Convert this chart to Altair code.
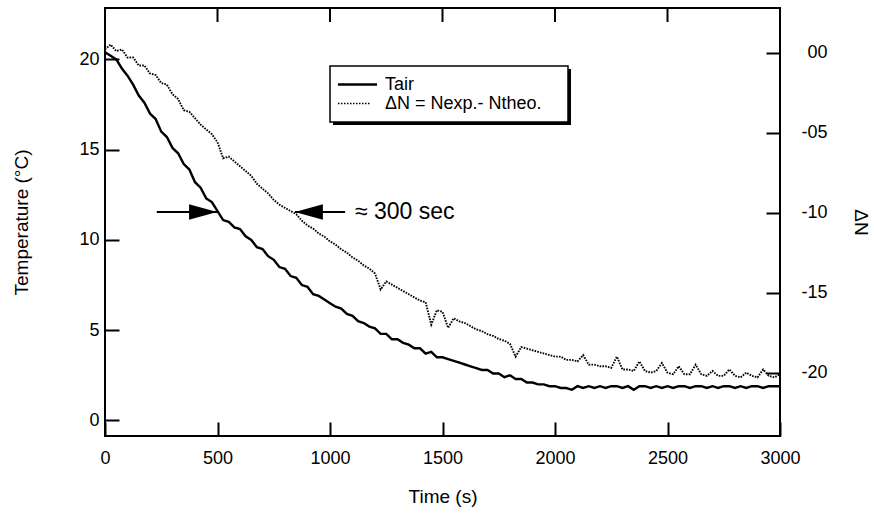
import altair as alt
import pandas as pd

# ---------------- data ----------------
time_s = list(range(0, 3001, 25))

tair = [
    20.4, 20.2, 20.0, 19.5, 19.1, 18.6, 18.0, 17.6,
    17.0, 16.7, 16.0, 15.7, 15.1, 14.8, 14.2, 13.9,
    13.2, 12.9, 12.3, 12.1, 11.6, 11.1, 11.0, 10.7,
    10.6, 10.2, 10.0, 9.6, 9.5, 9.1, 8.9, 8.5,
    8.4, 8.0, 7.9, 7.5, 7.4, 7.0, 6.9, 6.7,
    6.5, 6.3, 6.2, 5.9, 5.8, 5.5, 5.4, 5.2,
    5.1, 4.8, 4.8, 4.5, 4.5, 4.3, 4.2, 4.0,
    4.0, 3.7, 3.8, 3.5, 3.5, 3.4, 3.3, 3.2,
    3.1, 3.0, 2.9, 2.8, 2.8, 2.6, 2.6, 2.4,
    2.5, 2.3, 2.3, 2.1, 2.1, 2.0, 2.0, 1.9,
    1.9, 1.8, 1.8, 1.7, 1.9, 1.8, 1.9, 1.8,
    1.9, 1.8, 1.9, 1.9, 1.8, 1.9, 1.7, 1.9,
    1.9, 1.8, 1.9, 1.8, 1.9, 1.8, 1.9, 1.9,
    1.8, 1.9, 1.9, 1.8, 1.9, 1.8, 1.9, 1.9,
    1.8, 1.9, 1.8, 1.9, 1.9, 1.8, 1.9, 1.9,
    1.9,
]

delta_n = [
    0.2, 0.5, 0.1, 0.2, -0.3, -0.3, -0.8, -0.8,
    -1.3, -1.4, -1.9, -2.0, -2.6, -2.9, -3.6, -3.7,
    -4.1, -4.5, -4.8, -5.1, -5.6, -6.6, -6.5, -6.8,
    -7.1, -7.4, -7.7, -8.2, -8.5, -8.8, -9.2, -9.5,
    -9.7, -9.9, -10.1, -10.5, -10.8, -11.0, -11.3, -11.5,
    -11.8, -12.0, -12.3, -12.5, -12.8, -13.0, -13.3, -13.5,
    -13.8, -14.8, -14.3, -14.5, -14.7, -14.9, -15.1, -15.3,
    -15.5, -15.6, -17.0, -16.1, -16.2, -17.2, -16.6, -16.8,
    -16.9, -17.1, -17.3, -17.4, -17.6, -17.7, -17.9, -18.0,
    -18.2, -19.0, -18.4, -18.5, -18.6, -18.7, -18.8, -18.9,
    -19.0, -19.0, -19.2, -19.2, -19.3, -18.9, -19.5, -19.5,
    -19.6, -19.6, -19.7, -19.0, -19.8, -19.8, -19.9, -19.3,
    -19.9, -20.0, -19.9, -19.4, -20.0, -20.1, -19.6, -20.1,
    -20.1, -19.5, -20.1, -20.2, -19.9, -20.2, -20.2, -19.8,
    -20.2, -20.3, -20.0, -20.2, -20.3, -19.8, -20.2, -20.3,
    -20.1,
]

x_ticks = [0, 500, 1000, 1500, 2000, 2500, 3000]
top_ticks = [500, 1000, 1500, 2000, 2500]
temp_ticks = [0, 5, 10, 15, 20]
dn_ticks = [0, -5, -10, -15, -20]

legend_labels = ["Tair", "\u0394N = Nexp.- Ntheo."]
annotation_text = "\u2248 300 sec"
arrow_level = [11.55]
arrow_left = [230, 498]    # shaft start, tip (s)
arrow_right = [1067, 844]  # shaft start, tip (s)
annotation_x = [1111]

# ---------------- styling ----------------
FONT = "Liberation Sans"
W, H = 675, 428
TICK = 14

df = pd.DataFrame({"t": time_s, "tair": tair, "dn": delta_n})
one = pd.DataFrame({"a": [0]})

xscale = alt.Scale(domain=[0, 3000], nice=False, zero=False)
tscale = alt.Scale(domain=[-0.86, 22.85], nice=False, zero=False)
nscale = alt.Scale(domain=[-23.96, 2.79], nice=False, zero=False)

x_axis = alt.Axis(orient="bottom", values=x_ticks, offset=-TICK, tickSize=TICK,
                  domain=False, labelPadding=13, labelFlush=False, format="d",
                  title="Time (s)", titlePadding=20)
left_axis = alt.Axis(orient="left", values=temp_ticks, offset=-TICK, tickSize=TICK,
                     domain=False, labelPadding=6, format="d",
                     title="Temperature (\u00b0C)", titlePadding=47)
right_axis = alt.Axis(orient="right", values=dn_ticks, offset=-TICK, tickSize=TICK,
                      domain=False, labelPadding=47, labelAlign="right",
                      labelExpr="datum.value == 0 ? '00' : (datum.value > -10 ? '-0' + abs(datum.value) : '' + datum.value)",
                      title="\u0394N", titlePadding=23)

X = lambda f: alt.X(f, scale=xscale, axis=x_axis)
YT = lambda f: alt.Y(f, scale=tscale, axis=left_axis)

temp_line = alt.Chart(df).mark_line(color="black", strokeWidth=2.4).encode(
    x=X("t:Q"), y=YT("tair:Q"))

top_tick_layer = alt.Chart(pd.DataFrame({"v": top_ticks})).mark_rule(
    color="black", strokeWidth=2).encode(x=X("v:Q"), y=alt.value(0), y2=alt.value(TICK))

shafts = pd.DataFrame({"x": [arrow_left[0], arrow_right[0]],
                       "x2": [arrow_left[1], arrow_right[1]],
                       "y": arrow_level * 2})
shaft_layer = alt.Chart(shafts).mark_rule(color="black", strokeWidth=1.8).encode(
    x=X("x:Q"), x2="x2:Q", y=YT("y:Q"))

head_r = alt.Chart(pd.DataFrame({"x": [arrow_left[1]], "y": arrow_level})).mark_point(
    shape="M -2 -0.55 L 0 0 L -2 0.55 Z", filled=True, color="black", opacity=1,
    size=784, strokeWidth=0).encode(x=X("x:Q"), y=YT("y:Q"))
head_l = alt.Chart(pd.DataFrame({"x": [arrow_right[1]], "y": arrow_level})).mark_point(
    shape="M 2 -0.55 L 0 0 L 2 0.55 Z", filled=True, color="black", opacity=1,
    size=784, strokeWidth=0).encode(x=X("x:Q"), y=YT("y:Q"))

ann = alt.Chart(pd.DataFrame({"x": annotation_x, "y": arrow_level, "label": [annotation_text]})).mark_text(
    align="left", baseline="middle", font=FONT, fontSize=23, color="black").encode(
    x=X("x:Q"), y=YT("y:Q"), text="label:N")

temp_group = alt.layer(temp_line, top_tick_layer, shaft_layer, head_r, head_l, ann)

dn_line = alt.Chart(df).mark_line(color="black", strokeWidth=1.9, strokeDash=[1.6, 1.2]).encode(
    x=X("t:Q"), y=alt.Y("dn:Q", scale=nscale, axis=right_axis))

# legend box (drawn in pixel space)
shadow = alt.Chart(one).mark_rect(color="black").encode(
    x=alt.value(228), x2=alt.value(466), y=alt.value(61), y2=alt.value(117))
box = alt.Chart(one).mark_rect(fill="white", stroke="black", strokeWidth=1.5).encode(
    x=alt.value(225), x2=alt.value(463), y=alt.value(58), y2=alt.value(114))
leg_solid = alt.Chart(one).mark_rule(color="black", strokeWidth=2.4).encode(
    x=alt.value(233), x2=alt.value(272), y=alt.value(76.5))
leg_dot = alt.Chart(one).mark_rule(color="black", strokeWidth=1.5, strokeDash=[1.5, 1.5]).encode(
    x=alt.value(233), x2=alt.value(265), y=alt.value(95.5))
leg_t1 = alt.Chart(one).mark_text(align="left", baseline="middle", font=FONT, fontSize=18,
                                  color="black").encode(
    x=alt.value(280), y=alt.value(76.5), text=alt.value(legend_labels[0]))
leg_t2 = alt.Chart(one).mark_text(align="left", baseline="middle", font=FONT, fontSize=18,
                                  color="black").encode(
    x=alt.value(280), y=alt.value(95.5), text=alt.value(legend_labels[1]))
legend_group = alt.layer(shadow, box, leg_solid, leg_dot, leg_t1, leg_t2)

chart = alt.layer(temp_group, dn_line, legend_group).resolve_scale(
    y="independent"
).properties(
    width=W, height=H,
    padding={"left": 105, "top": 8, "right": 94, "bottom": 78},
    autosize=alt.AutoSizeParams(type="none"),
    background="white",
).configure_view(
    stroke="black", strokeWidth=2
).configure_axis(
    labelFont=FONT, titleFont=FONT, labelFontSize=18, titleFontSize=19,
    labelColor="black", titleColor="black", tickColor="black", tickWidth=2,
    grid=False, titleFontWeight="normal",
)

chart.save("out.html", embed_options={"renderer": "svg", "actions": False})
